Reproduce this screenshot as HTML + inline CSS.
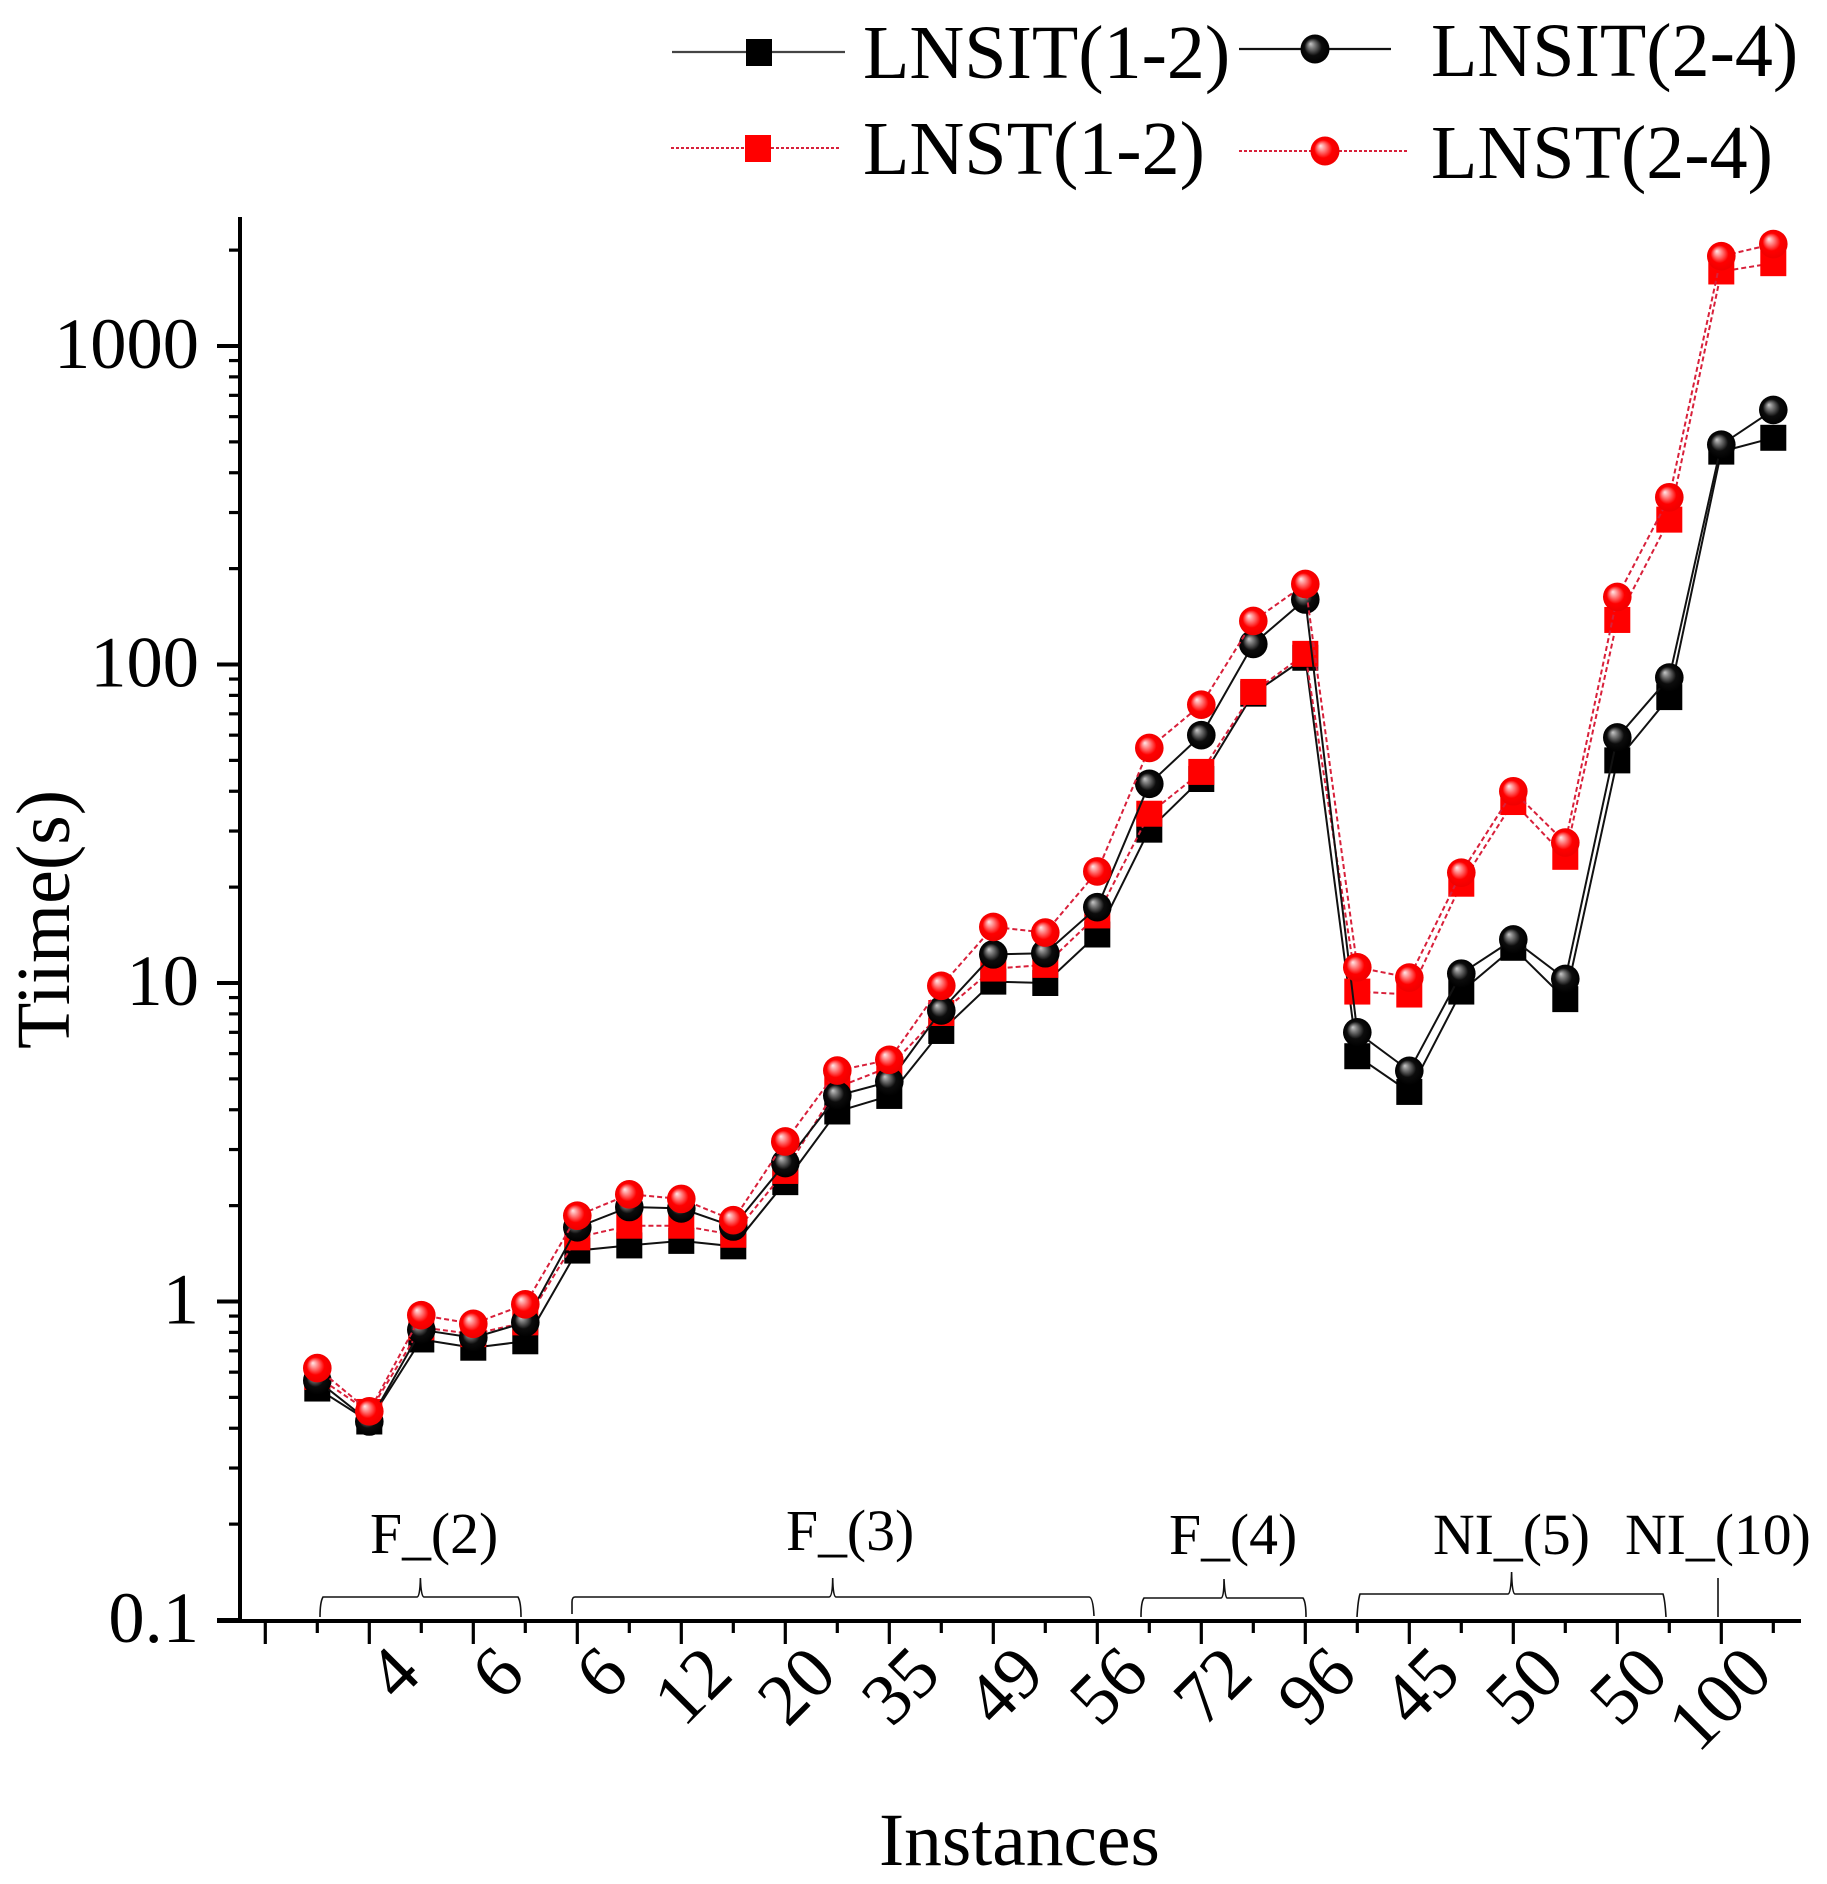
<!DOCTYPE html>
<html lang="en">
<head>
<meta charset="utf-8">
<title>Time by instance</title>
<style>
html,body{margin:0;padding:0;background:#fff;}
svg{display:block;}
text{font-family:"Liberation Serif","Times New Roman",serif;fill:#000;}
</style>
</head>
<body>
<svg id="chart" xmlns="http://www.w3.org/2000/svg" width="1827" height="1884" viewBox="0 0 1827 1884">
<defs>
<radialGradient id="ballBlack" cx="50%" cy="50%" r="50%" fx="34%" fy="32%">
<stop offset="0" stop-color="#c8c8c8"/><stop offset="0.22" stop-color="#808080"/><stop offset="0.6" stop-color="#0c0c0c"/><stop offset="1" stop-color="#000"/>
</radialGradient>
<radialGradient id="ballRed" cx="50%" cy="50%" r="50%" fx="34%" fy="32%">
<stop offset="0" stop-color="#ffe8e8"/><stop offset="0.25" stop-color="#ff8c8c"/><stop offset="0.62" stop-color="#ff0000"/><stop offset="1" stop-color="#f00000"/>
</radialGradient>
</defs>
<rect x="0" y="0" width="1827" height="1884" fill="#fff"/>

<g id="axes"></g>
<g id="series"></g>

<g fill="none" stroke="#111" stroke-width="1.6">
<path d="M320 1617 Q320 1602 323 1597 L417 1597 Q420 1597 420.4 1578 Q421 1597 424 1597 L518 1597 Q521 1602 521 1617"/>
<path d="M572 1614 L572 1602 Q572 1597 575 1597 L829 1597 Q832.5 1597 832.7 1578 Q833 1597 836 1597 L1089 1597 Q1093 1597 1094 1616"/>
<path d="M1141 1617 Q1141 1602 1144 1598 L1221 1598 Q1224 1598 1224 1579 Q1225 1598 1227 1598 L1303 1598 Q1306 1602 1306 1617"/>
<path d="M1357 1617 Q1358 1600 1360 1594 L1508 1594 Q1511 1594 1511.6 1572 Q1512 1594 1515 1594 L1663 1594 Q1665 1600 1666 1617"/>
<path d="M1718 1578 L1718 1617"/>
</g>
<text x="370" y="1553" font-size="57.7">F_(2)</text>
<text x="786" y="1550" font-size="57.7">F_(3)</text>
<text x="1169" y="1554" font-size="57.7">F_(4)</text>
<text x="1433" y="1554" font-size="57.7">NI_(5)</text>
<text x="1625" y="1554" font-size="57.7">NI_(10)</text>

<text x="879" y="1865" font-size="75.5">Instances</text>
<text transform="translate(69,1049) rotate(-90)" font-size="76">Tiime(s)</text>

<g>
<g>
<line x1="672" y1="52" x2="845" y2="52" stroke="#444" stroke-width="2.2"/>
<rect x="746" y="39" width="26" height="27" fill="#000"/>
<text x="863" y="78" font-size="76">LNSIT(1-2)</text>
</g>
<g>
<line x1="1239" y1="49" x2="1391" y2="49" stroke="#111" stroke-width="2.2"/>
<circle cx="1315" cy="49" r="14.5" fill="url(#ballBlack)"/>
<text x="1431" y="76" font-size="76">LNSIT(2-4)</text>
</g>
<g>
<line x1="671" y1="148" x2="841" y2="148" stroke="#d8203a" stroke-width="2" stroke-dasharray="3 2"/>
<rect x="745" y="135" width="26" height="27" fill="#f00"/>
<text x="863" y="174" font-size="76">LNST(1-2)</text>
</g>
<g>
<line x1="1239" y1="151" x2="1408" y2="151" stroke="#d8203a" stroke-width="2" stroke-dasharray="3 2"/>
<circle cx="1325" cy="151" r="14.5" fill="url(#ballRed)"/>
<text x="1431" y="178" font-size="76">LNST(2-4)</text>
</g>
</g>
</svg>

<script>
var instances = [1,2,3,4,5,6,7,8,9,10,11,12,13,14,15,16,17,18,19,20,21,22,23,24,25,26,27,28,29];
var lnsit12 = [0.533,0.42,0.76,0.716,0.75,1.445,1.50,1.55,1.49,2.37,3.95,4.42,7.07,10.1,10.0,14.2,30.3,43.7,81,105,5.89,4.55,9.4,12.9,8.9,50,79,466,515];
var lnst12 = [0.58,0.45,0.83,0.79,0.86,1.59,1.73,1.73,1.62,2.57,4.7,5.45,8.05,11.1,11.4,16.3,34,46,82,108,9.4,9.2,20.5,37,24.9,138,285,1714,1820];
var lnsit24 = [0.565,0.42,0.815,0.77,0.86,1.71,1.98,1.96,1.72,2.72,4.43,4.9,8.2,12.3,12.4,17.3,42.2,60,116,160,7.0,5.3,10.7,13.7,10.3,59,91,490,630];
var lnst24 = [0.618,0.452,0.906,0.851,0.98,1.86,2.17,2.10,1.80,3.18,5.31,5.74,9.8,15.0,14.4,22.4,54.7,74.8,137,179,11.2,10.4,22.2,40,27.6,163,335,1914,2090];
var yMajorTicks = [0.1,1,10,100,1000];
var yMajorLabels = ['0.1','1','10','100','1000'];
var yMinorFactors = [2,3,4,5,6,7,8,9];
var xTickIndex = [0,1,2,3,4,5,6,7,8,9,10,11,12,13,14,15,16,17,18,19,20,21,22,23,24,25,26,27,28,29];
var xMajorLabels = ['','4','6','6','12','20','35','49','56','72','96','45','50','50','100'];

var NS = 'http://www.w3.org/2000/svg';
function xScale(i){ return 265.3 + 52 * i; }
function yScale(v){ return 1620 - 318.5 * (Math.log(v) / Math.LN10 + 1); }
function make(tag, attrs, parent){
  var el = document.createElementNS(NS, tag);
  for (var k in attrs) { el.setAttribute(k, attrs[k]); }
  parent.appendChild(el);
  return el;
}

var axes = document.getElementById('axes');
var yAxisLine = make('line', {x1:240, y1:217, x2:240, y2:1621, stroke:'#000', 'stroke-width':4}, axes);


var xAxisLine = make('line', {x1:217, y1:1621, x2:1801, y2:1621, stroke:'#000', 'stroke-width':4}, axes);



yMajorTicks.forEach(function(v, idx){
  var y = yScale(v);
  var t = make('line', {x1:217, y1:y, x2:240, y2:y, stroke:'#000', 'stroke-width':4}, axes);
  
  
  var lab = make('text', {x:199, y:y + 22, 'text-anchor':'end', 'font-size':72.5}, axes);
  
  
  lab.textContent = yMajorLabels[idx];
  yMinorFactors.forEach(function(f){
    var val = v * f;
    if (val > 2500) { return; }
    var my = yScale(val);
    var m = make('line', {x1:229, y1:my, x2:240, y2:my, stroke:'#000', 'stroke-width':3.2}, axes);
    
    
  });
});

xTickIndex.forEach(function(i){
  var major = i % 2 === 0;
  var x = xScale(i);
  var t = make('line', {x1:x, y1:1621, x2:x, y2: major ? 1644 : 1633, stroke:'#000', 'stroke-width':3.2}, axes);
  
  
  if (major && xMajorLabels[i / 2]) {
    var px = x + 54, py = 1677;
    var lab = make('text', {x:px, y:py, 'text-anchor':'end', 'font-size':73, transform:'rotate(-45 ' + px + ' ' + py + ')'}, axes);
    
    
    lab.textContent = xMajorLabels[i / 2];
  }
});

var seriesGroup = document.getElementById('series');
function drawSeries(name, values, lineColor, dash, marker, fill){
  var g = make('g', {}, seriesGroup);
  
  
  var pts = values.map(function(v, k){ return xScale(instances[k]).toFixed(1) + ',' + yScale(v).toFixed(1); }).join(' ');
  var line = make('polyline', {points:pts, fill:'none', stroke:lineColor, 'stroke-width':2}, g);
  if (dash) { line.setAttribute('stroke-dasharray', dash); }
  
  
  values.forEach(function(v, k){
    var cx = xScale(instances[k]), cy = yScale(v), m;
    if (marker === 'square') {
      m = make('rect', {x:cx - 13, y:cy - 13, width:26, height:26, fill:fill}, g);
    } else {
      m = make('circle', {cx:cx, cy:cy, r:14.3, fill:fill}, g);
    }
    
    
  });
}
drawSeries('lnsit-1-2', lnsit12, '#111', null, 'square', '#000');
drawSeries('lnst-1-2', lnst12, '#d8203a', '5 3', 'square', '#f00');
drawSeries('lnsit-2-4', lnsit24, '#111', null, 'circle', 'url(#ballBlack)');
drawSeries('lnst-2-4', lnst24, '#d8203a', '5 3', 'circle', 'url(#ballRed)');
</script>
</body>
</html>
